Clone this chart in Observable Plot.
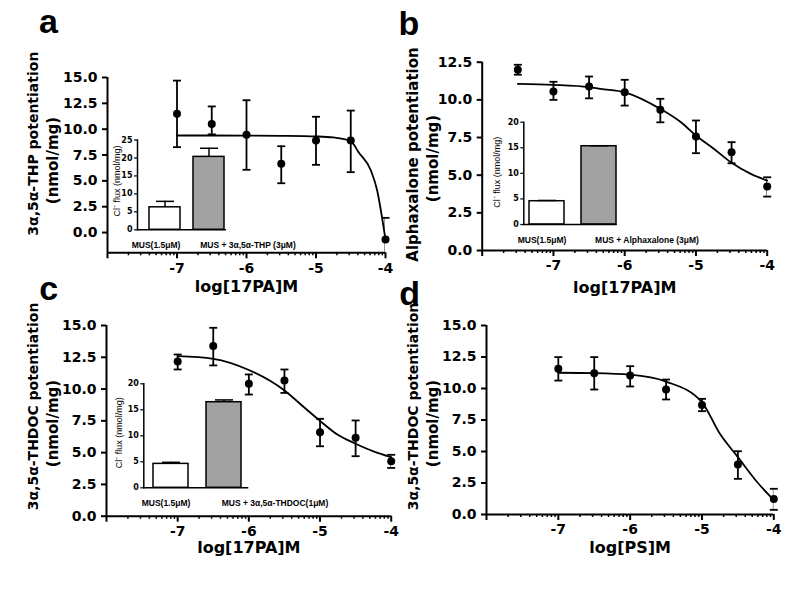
<!DOCTYPE html>
<html><head><meta charset="utf-8">
<script src="https://cdn.jsdelivr.net/npm/d3@7"></script>
<script src="https://cdn.jsdelivr.net/npm/@observablehq/plot@0.6"></script>
<style>
body{margin:0;background:#fff}
#root{position:relative;width:800px;height:600px;background:#fff;overflow:hidden}
#root svg{position:absolute}
</style></head><body><div id="root"></div>
<script>
// ---------- shared axis values ----------
const xTickVals = [-7, -6, -5, -4];
const xTickLabels = ["-7", "-6", "-5", "-4"];
const yTicks15 = [0, 2.5, 5, 7.5, 10, 12.5, 15];
const yTicks125 = [0, 2.5, 5, 7.5, 10, 12.5];
const insetTicks25 = [0, 5, 10, 15, 20, 25];
const insetTicks20 = [0, 5, 10, 15, 20];

// ---------- panel a ----------
const aX = [-7, -6.5, -6, -5.5, -5, -4.5, -4];
const aY = [11.5, 10.5, 9.45, 6.65, 8.9, 8.9, -0.68];
const aHi = [14.7, 12.2, 12.8, 8.35, 11.2, 11.8, 1.42];
const aLo = [8.26, 9.5, 6.07, 4.77, 6.55, 5.84, -2.8];
const aFitX = [-7, -6, -5.5, -5, -4.75, -4.5, -4.39, -4.21, -4.12, -4.05, -4];
const aFitY = [9.39, 9.38, 9.36, 9.3, 9.2, 8.85, 7.8, 6.0, 4.07, 1.48, -0.68];
const aInsetCats = ["MUS(1.5μM)", "MUS + 3α,5α-THP (3μM)"];
const aInsetVals = [6.26, 20.3];
const aInsetTops = [7.92, 22.7];

// ---------- panel b ----------
const bX = [-7.5, -7, -6.5, -6, -5.5, -5, -4.5, -4];
const bY = [12.0, 10.55, 10.88, 10.5, 9.34, 7.56, 6.52, 4.25];
const bHi = [12.33, 11.2, 11.55, 11.33, 10.07, 8.63, 7.19, 4.86];
const bLo = [11.67, 10.0, 10.1, 9.62, 8.51, 6.46, 5.79, 3.58];
const bFitX = [-7.5, -7, -6.5, -6.34, -6, -5.5, -5.21, -5, -4.75, -4.51, -4.23, -4];
const bFitY = [11.06, 11.0, 10.85, 10.73, 10.5, 9.4, 8.51, 7.63, 6.75, 5.86, 5.09, 4.64];
const bInsetCats = ["MUS(1.5μM)", "MUS + Alphaxalone (3μM)"];
const bInsetVals = [4.55, 15.3];
const bInsetTops = [4.7, 15.4];

// ---------- panel c ----------
const cX = [-7, -6.5, -6, -5.5, -5, -4.5, -4];
const cY = [12.17, 13.38, 10.42, 10.68, 6.61, 6.17, 4.33];
const cHi = [12.72, 14.82, 11.15, 11.54, 7.66, 7.53, 4.83];
const cLo = [11.54, 11.86, 9.57, 9.7, 5.5, 4.72, 3.8];
const cFitX = [-7, -6.5, -6, -5.5, -5.2, -5, -4.75, -4.5, -4.25, -4];
const cFitY = [12.59, 12.38, 11.5, 9.89, 8.45, 7.5, 6.4, 5.7, 5.1, 4.64];
const cInsetCats = ["MUS(1.5μM)", "MUS + 3α,5α-THDOC(1μM)"];
const cInsetVals = [4.6, 16.46];
const cInsetTops = [4.9, 16.9];

// ---------- panel d ----------
const dX = [-7, -6.5, -6, -5.5, -5, -4.5, -4];
const dY = [11.56, 11.22, 11.03, 9.92, 8.7, 3.97, 1.24];
const dHi = [12.49, 12.49, 11.77, 10.71, 9.18, 5.02, 2.04];
const dLo = [10.63, 9.92, 10.16, 9.13, 8.2, 2.83, 0.37];
const dFitX = [-7, -6.5, -6, -5.5, -5, -4.75, -4.5, -4.23, -4];
const dFitY = [11.25, 11.22, 11.1, 10.55, 8.9, 6.4, 4.55, 2.56, 1.15];

const insetFills = ["white", "#a2a2a2"];
const insetYTitle = "Cl⁻ flux (nmol/mg)";

// minor log ticks between decades
const xMinor = [];
for (const dec of [-8, -7, -6, -5]) for (let k = 2; k <= 9; k++) xMinor.push(dec + Math.log10(k));

const cap = {draw(ctx, size) { const r = Math.sqrt(size / Math.PI); ctx.moveTo(-r, 0); ctx.lineTo(r, 0); }};
const root = document.getElementById("root");
function place(svg, left, top) { svg.style.left = left + "px"; svg.style.top = top + "px"; root.appendChild(svg); }

function mainPanel(c) {
  const pts = c.xs.map((x, i) => ({x, y: c.ys[i], lo: c.los[i], hi: c.his[i]}));
  const fit = c.fitX.map((x, i) => ({x, y: c.fitY[i]}));
  const ymin = c.yDomain[0];
  const svg = Plot.plot({
    width: 400, height: 300,
    marginLeft: c.m[0], marginRight: c.m[1], marginTop: c.m[2], marginBottom: c.m[3],
    style: {background: "transparent", fontFamily: "DejaVu Sans", fontSize: "14px", fontWeight: "bold", color: "black", overflow: "visible"},
    x: {domain: [-8, -4], label: null},
    y: {domain: c.yDomain, label: null},
    marks: [
      Plot.axisY(c.yTicks, {tickSize: 5, tickPadding: 5, tickFormat: d3.format(".1f"), strokeWidth: 2, label: null}),
      Plot.axisX(xTickVals, {tickSize: 6, tickPadding: 4, tickFormat: d => xTickLabels[xTickVals.indexOf(d)], strokeWidth: 2, label: null}),
      Plot.axisX([-8], {tickSize: 6, tickFormat: () => "", strokeWidth: 2, label: null}),
      Plot.axisX(xMinor, {tickSize: 3, tickFormat: () => "", strokeWidth: 1.5, label: null}),
      Plot.ruleX([-8], {strokeWidth: 2}),
      Plot.ruleY([ymin], {strokeWidth: 2}),
      Plot.line(fit, {x: "x", y: "y", curve: "monotone-x", strokeWidth: 1.8}),
      Plot.ruleX(pts, {x: "x", y1: "lo", y2: "hi", strokeWidth: 1.8, clip: "frame"}),
      Plot.dot(pts, {x: "x", y: "hi", symbol: cap, r: 4, stroke: "black", fill: "none", strokeWidth: 1.8}),
      Plot.dot(pts.filter(p => p.lo >= ymin), {x: "x", y: "lo", symbol: cap, r: 4, stroke: "black", fill: "none", strokeWidth: 1.8}),
      Plot.dot(pts, {x: "x", y: "y", r: 4, fill: "black"}),
      Plot.text([c.yTitle1], {text: d => d, frameAnchor: "left", textAnchor: "middle", lineAnchor: "middle", rotate: -90, dx: c.t1[0], dy: c.t1[1], fontSize: c.tf}),
      Plot.text([c.yTitle2], {text: d => d, frameAnchor: "left", textAnchor: "middle", lineAnchor: "middle", rotate: -90, dx: c.t2[0], dy: c.t2[1], fontSize: 15}),
      Plot.text([c.xTitle], {text: d => d, frameAnchor: "bottom", textAnchor: "middle", lineAnchor: "middle", dy: c.xt, fontSize: 16}),
      Plot.text([c.letter], {text: d => d, frameAnchor: "top-left", textAnchor: "start", lineAnchor: "middle", dx: c.L[0], dy: c.L[1], fontSize: 34, fontFamily: "Liberation Sans"})
    ]
  });
  place(svg, c.pos[0], c.pos[1]);
}

function insetPanel(c) {
  const data = c.cats.map((k, i) => ({k, v: c.vals[i], e: c.tops[i], f: insetFills[i]}));
  const svg = Plot.plot({
    width: c.size[0], height: c.size[1],
    marginLeft: c.m[0], marginRight: c.m[1], marginTop: c.m[2], marginBottom: c.m[3],
    style: {background: "transparent", fontFamily: "DejaVu Sans", fontSize: "8px", fontWeight: "bold", color: "black", overflow: "visible"},
    x: {type: "band", domain: c.cats, paddingInner: c.band[0], paddingOuter: c.band[1], align: c.band[2], axis: null, label: null},
    y: {domain: [0, c.yTicks[c.yTicks.length - 1]], label: null},
    color: {type: "identity"},
    marks: [
      Plot.barY(data, {x: "k", y: "v", fill: "f", stroke: "black", strokeWidth: 1.5}),
      Plot.ruleX(data, {x: "k", y1: "v", y2: "e", strokeWidth: 1.5}),
      Plot.dot(data, {x: "k", y: "e", symbol: cap, r: 9, stroke: "black", fill: "none", strokeWidth: 1.5}),
      Plot.frame({anchor: "left", strokeWidth: 1.5}),
      Plot.ruleY([0], {strokeWidth: 1.5}),
      Plot.axisY(c.yTicks, {tickSize: 3, tickPadding: 2, strokeWidth: 1.2, label: null}),
      Plot.text([c.cats[0]], {x: d => d, text: d => d, frameAnchor: "bottom", textAnchor: "middle", lineAnchor: "middle", dy: c.ly, dx: c.lx[0], fontSize: 8.5, fontFamily: "Liberation Sans"}),
      Plot.text([c.cats[1]], {x: d => d, text: d => d, frameAnchor: "bottom", textAnchor: "middle", lineAnchor: "middle", dy: c.ly, dx: c.lx[1], fontSize: 8.5, fontFamily: "Liberation Sans"}),
      Plot.text([insetYTitle], {text: d => d, frameAnchor: "left", textAnchor: "middle", lineAnchor: "middle", rotate: -90, dx: c.t[0], dy: c.t[1], fontSize: 9, fontFamily: "Liberation Sans", fontWeight: "normal"})
    ]
  });
  place(svg, c.pos[0], c.pos[1]);
}

mainPanel({xs: aX, ys: aY, his: aHi, los: aLo, fitX: aFitX, fitY: aFitY,
  yDomain: [-1.96, 15], yTicks: yTicks15, m: [107, 15, 77, 47.7], pos: [0, 0],
  yTitle1: "3α,5α-THP potentiation", yTitle2: "(nmol/mg)", t1: [-74, -21.5], t2: [-54, -4.6], tf: 14,
  xTitle: "log[17PA]M", xt: 34, letter: "a", L: [-68.4, -55]});
mainPanel({xs: bX, ys: bY, his: bHi, los: bLo, fitX: bFitX, fitY: bFitY,
  yDomain: [0, 12.5], yTicks: yTicks125, m: [91.7, 23.3, 61.7, 50], pos: [390, 0],
  yTitle1: "Alphaxalone potentiation", yTitle2: "(nmol/mg)", t1: [-68.7, -1.9], t2: [-48.7, 2.2], tf: 15,
  xTitle: "log[17PA]M", xt: 37, letter: "b", L: [-83.7, -37.6]});
mainPanel({xs: cX, ys: cY, his: cHi, los: cLo, fitX: cFitX, fitY: cFitY,
  yDomain: [0, 15], yTicks: yTicks15, m: [106, 9.3, 55, 54.3], pos: [0, 270],
  yTitle1: "3α,5α-THDOC potentiation", yTitle2: "(nmol/mg)", t1: [-73, -14.4], t2: [-53, 2.7], tf: 14,
  xTitle: "log[17PA]M", xt: 31.3, letter: "c", L: [-67.3, -35.9]});
mainPanel({xs: dX, ys: dY, his: dHi, los: dLo, fitX: dFitX, fitY: dFitY,
  yDomain: [0, 15], yTicks: yTicks15, m: [96, 16.7, 55, 56], pos: [390, 270],
  yTitle1: "3α,5α-THDOC potentiation", yTitle2: "(nmol/mg)", t1: [-73, -13.5], t2: [-53, 3.5], tf: 14,
  xTitle: "log[PS]M", xt: 33, letter: "d", L: [-87.3, -30.9]});

insetPanel({cats: aInsetCats, vals: aInsetVals, tops: aInsetTops, yTicks: insetTicks25,
  size: [230, 135], m: [42, 99, 14.5, 30.7], pos: [95, 125], band: [0.3, 0.155, 0.82],
  ly: 15, lx: [-9, 39], t: [-20, -4]});
insetPanel({cats: bInsetCats, vals: bInsetVals, tops: bInsetTops, yTicks: insetTicks20,
  size: [230, 140], m: [53.3, 83.3, 11.7, 26], pos: [470, 110], band: [0.32, 0.055, 1],
  ly: 16, lx: [-5, 48], t: [-26.6, -1]});
insetPanel({cats: cInsetCats, vals: cInsetVals, tops: cInsetTops, yTicks: insetTicks20,
  size: [260, 140], m: [48.3, 106.7, 13.3, 22.7], pos: [95, 370], band: [0.343, 0.156, 0.56],
  ly: 15.4, lx: [-5, 51], t: [-25, -3]});
</script>
</body></html>
